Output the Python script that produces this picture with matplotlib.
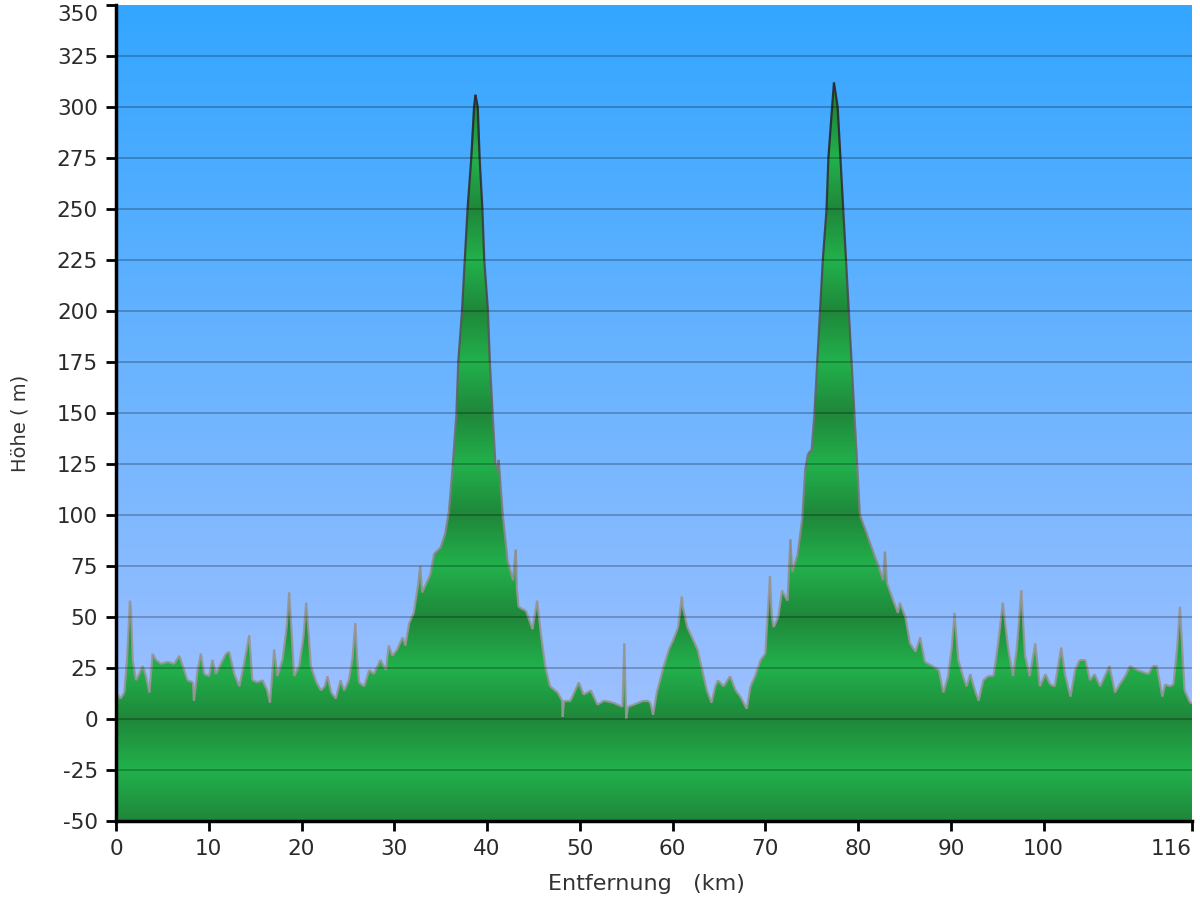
import numpy as np
import matplotlib
matplotlib.use('Agg')
import matplotlib.pyplot as plt
from matplotlib.patches import Polygon
from matplotlib.collections import LineCollection

plt.rcParams['axes.unicode_minus'] = False

# Höhenprofil: Entfernung (km) und Höhe (m)
km = [0.0, 0.2, 0.5, 0.9, 1.2, 1.5, 1.6, 1.8, 2.15, 2.5, 2.87, 3.23, 3.6, 3.95,
      4.3, 4.85, 5.56, 6.28, 6.82, 7.2, 7.7, 8.3, 8.4, 8.8, 9.15, 9.5, 10.05,
      10.4, 10.77, 11.3, 11.85, 12.2, 12.75, 13.3, 13.8, 14.36, 14.7, 15.25,
      15.8, 16.3, 16.6, 17.05, 17.4, 17.95, 18.4, 18.67, 18.9, 19.2, 19.75,
      20.2, 20.5, 20.8, 21.0, 21.6, 22.1, 22.5, 22.8, 23.2, 23.7, 24.2, 24.6,
      25.1, 25.5, 25.8, 26.0, 26.2, 26.75, 27.3, 27.8, 28.5, 29.1, 29.4, 29.8,
      30.3, 30.9, 31.2, 31.6, 32.1, 32.6, 32.8, 33.0, 33.9, 34.3, 35.0, 35.5,
      35.9, 36.3, 36.7, 36.9, 37.3, 37.6, 37.9, 38.3, 38.6, 38.75, 39.0, 39.2,
      39.5, 39.7, 40.1, 40.3, 40.6, 40.9, 41.1, 41.25, 41.45, 41.7, 42.2, 42.8,
      43.1, 43.2, 43.4, 44.2, 44.9, 45.4, 45.6, 45.8, 46.3, 46.8, 47.6, 48.1,
      48.15, 48.3, 49.0, 49.9, 50.4, 51.2, 51.9, 52.6, 53.6, 54.6, 54.8, 55.0,
      55.2, 55.8, 56.9, 57.3, 57.6, 57.9, 58.3, 59.0, 59.6, 60.1, 60.6, 61.0,
      61.1, 61.6, 62.1, 62.7, 63.2, 63.7, 64.2, 64.6, 64.9, 65.5, 66.2, 66.8,
      67.3, 68.0, 68.4, 68.9, 69.5, 70.0, 70.5, 70.7, 70.9, 71.4, 71.8, 72.4,
      72.7, 72.9, 73.5, 74.0, 74.3, 74.6, 75.0, 75.3, 75.6, 75.9, 76.2, 76.6,
      76.8, 77.2, 77.4, 77.8, 78.1, 78.4, 78.7, 79.0, 79.3, 79.6, 79.9, 80.2,
      81.0, 81.7, 82.2, 82.7, 82.9, 83.1, 83.8, 84.3, 84.5, 85.1, 85.6, 86.2,
      86.7, 87.2, 88.0, 88.7, 89.2, 89.7, 90.1, 90.4, 90.8, 91.3, 91.7, 92.1,
      92.6, 93.0, 93.5, 94.0, 94.6, 95.1, 95.6, 96.2, 96.7, 97.1, 97.6, 98.0,
      98.5, 99.1, 99.6, 100.2, 100.7, 101.2, 101.9, 102.3, 102.9, 103.4, 103.9,
      104.5, 105.0, 105.5, 106.1, 106.6, 107.1, 107.7, 108.2, 108.8, 109.3,
      110.1, 110.7, 111.3, 111.8, 112.2, 112.8, 113.1, 113.6, 114.0, 114.4,
      114.7, 115.0, 115.2, 115.8, 116.0]

hoehe = [3, 12, 10, 13, 30, 58, 55, 29, 19, 22, 26, 21, 13, 32,
         29, 27, 28, 27, 31, 26, 19, 18, 9, 24, 32, 22, 21,
         29, 22, 27, 32, 33, 22, 16, 27, 41, 19, 18,
         19, 14, 8, 34, 21, 29, 45, 62, 45, 21, 26,
         40, 57, 40, 26, 18, 14, 16, 21, 13, 10, 19, 14,
         19, 30, 47, 30, 18, 16, 24, 22, 29, 24, 36, 31,
         34, 40, 36, 47, 52, 67, 75, 62, 71, 81, 84, 91,
         102, 124, 150, 175, 200, 225, 250, 275, 300, 306, 300, 275,
         250, 225, 200, 175, 150, 125, 122, 127, 115, 100, 78, 68,
         83, 65, 55, 53, 44, 58, 50, 42, 25, 16, 13, 9,
         1, 9, 9, 18, 12, 14, 7, 9, 8, 6, 37, 0,
         6, 7, 9, 9, 8, 2, 13, 25, 34, 39, 45, 60,
         55, 45, 40, 34, 24, 14, 8, 16, 19, 16, 21, 14,
         11, 5, 16, 21, 29, 32, 70, 50, 45, 50, 63, 58,
         88, 72, 81, 99, 122, 130, 132, 150, 175, 200, 225, 250,
         275, 300, 312, 300, 275, 250, 225, 200, 175, 150, 125, 100,
         90, 81, 75, 68, 82, 67, 58, 52, 57, 50, 37, 33,
         40, 28, 26, 24, 13, 21, 35, 52, 29, 21, 16, 22,
         14, 9, 19, 21, 21, 37, 57, 34, 21, 34, 63, 31,
         21, 37, 16, 22, 17, 16, 35, 22, 11, 24, 29,
         29, 19, 22, 16, 21, 26, 13, 17, 21, 26,
         24, 23, 22, 26, 26, 11, 17, 16, 17, 35,
         55, 30, 14, 8, 8]

x_ticks = [0, 10, 20, 30, 40, 50, 60, 70, 80, 90, 100, 116]
y_ticks = list(range(-50, 351, 25))
y_min, y_max = -50, 350

fig = plt.figure(figsize=(12, 9), dpi=100)
ax = fig.add_axes([116 / 1200, 1 - 821 / 900, 1076 / 1200, 816 / 900])
ax.set_xlim(0, 116)
ax.set_ylim(y_min, y_max)
ax.set_facecolor('none')

# Hintergrund: blauer Verlauf
ys = np.linspace(y_min, y_max, 400)
t = (ys - y_min) / (y_max - y_min)
top = np.array([51, 166, 255]) / 255
bottom = np.array([174, 196, 255]) / 255
sky = bottom[None, :] * (1 - t[:, None]) + top[None, :] * t[:, None]
ax.imshow(sky[:, None, :], extent=[0, 116, y_min, y_max], origin='lower',
          aspect='auto', zorder=0, interpolation='bilinear')

# Gelände: grüner Streifenverlauf, dunkel bei Vielfachen von 50 m
dark = np.array([31, 135, 58]) / 255
light = np.array([34, 177, 76]) / 255
ys2 = np.linspace(y_min, y_max, 1600)
phase = np.abs(((ys2 % 50) - 25) / 25)
green = light[None, :] * (1 - phase[:, None]) + dark[None, :] * phase[:, None]
terrain = ax.imshow(green[:, None, :], extent=[0, 116, y_min, y_max],
                    origin='lower', aspect='auto', zorder=1,
                    interpolation='bilinear')
verts = [(km[0], y_min)] + list(zip(km, hoehe)) + [(km[-1], y_min)]
clip = Polygon(verts, closed=True, facecolor='none', edgecolor='none',
               transform=ax.transData)
ax.add_patch(clip)
terrain.set_clip_path(clip)

# Umrisslinie, mit der Höhe dunkler werdend
pts = np.column_stack([km, hoehe])
segs = np.stack([pts[:-1], pts[1:]], axis=1)
mid_h = (np.array(hoehe[:-1]) + np.array(hoehe[1:])) / 2
f = np.clip((mid_h - 60) / 220, 0, 1)
c_low = np.array([150, 150, 150]) / 255
c_high = np.array([40, 40, 40]) / 255
cols = c_low[None, :] * (1 - f[:, None]) + c_high[None, :] * f[:, None]
lc = LineCollection(segs, colors=cols, linewidths=1.6, alpha=0.9, zorder=2)
ax.add_collection(lc)

# Gitterlinien
for y in y_ticks[1:-1]:
    ax.axhline(y, color='black', alpha=0.28, linewidth=1.2, zorder=3)

for side in ['top', 'right']:
    ax.spines[side].set_visible(False)
for side in ['left', 'bottom']:
    ax.spines[side].set_linewidth(2.5)
    ax.spines[side].set_color('black')
    ax.spines[side].set_zorder(5)

ax.set_xticks(x_ticks)
ax.set_yticks(y_ticks)
ax.tick_params(axis='both', direction='out', length=7, width=2,
               labelsize=15.5, colors='black', labelcolor='#2a2a2a', pad=6)

# Randbeschriftungen nach innen schieben, wie im Original
ax.get_xticklabels()[-1].set_horizontalalignment('right')
ax.get_yticklabels()[-1].set_verticalalignment('top')

fig.text(20 / 1200, 1 - 423 / 900, 'Höhe ( m)', rotation=90, fontsize=14,
         color='#333333', ha='center', va='center')
fig.text(646 / 1200, 1 - 884 / 900, 'Entfernung   (km)', fontsize=16,
         color='#333333', ha='center', va='center')

fig.savefig('out.png', dpi=100)
